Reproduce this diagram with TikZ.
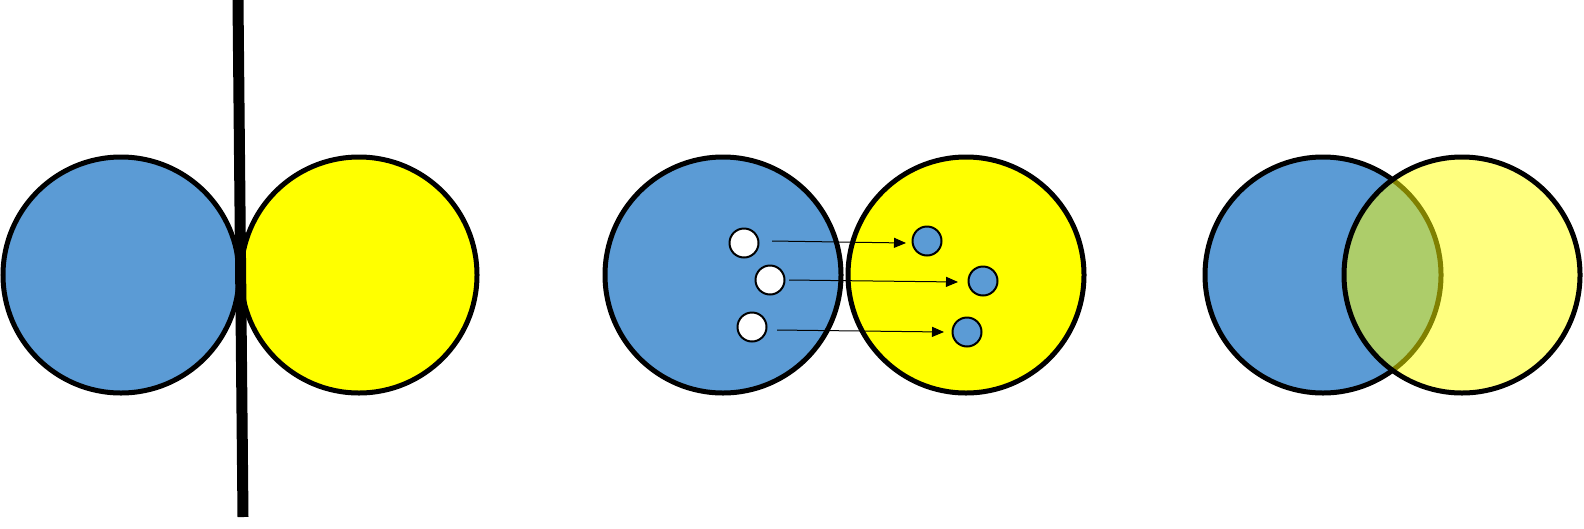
\documentclass[tikz,border=0pt]{standalone}
\usetikzlibrary{arrows.meta}
\definecolor{cblue}{HTML}{5B9BD5}
\definecolor{cyellow}{HTML}{FFFF00}
\begin{document}
\begin{tikzpicture}[x=1pt,y=-1pt,
  big/.style={circle,draw=black,line width=5pt,inner sep=0pt,minimum size=236pt},
  small/.style={circle,draw=black,line width=2pt,inner sep=0pt,minimum size=29pt},
  flow/.style={line width=1pt,-{Triangle[length=12pt,width=10pt]}}]
\useasboundingbox (0,0) rectangle (1584,528);
% panel 1
\node[big,fill=cblue] (b1) at (121,275) {};
\node[big,fill=cyellow] (y1) at (359,275) {};
\coordinate (ltop) at (238,0);
\coordinate (lbot) at (243,517);
\draw[line width=11pt] (ltop) -- (lbot);
% panel 2
\node[big,fill=cblue] (b2) at (723,275) {};
\node[big,fill=cyellow] (y2) at (966,275) {};
\node[small,fill=white] (w1) at (744,243) {};
\node[small,fill=white] (w2) at (770,280) {};
\node[small,fill=white] (w3) at (752,327) {};
\node[small,fill=cblue] (s1) at (927,241) {};
\node[small,fill=cblue] (s2) at (983,281) {};
\node[small,fill=cblue] (s3) at (967,332) {};
\coordinate (a1s) at (772,241); \coordinate (a1e) at (906,243);
\coordinate (a2s) at (789,280); \coordinate (a2e) at (958,282);
\coordinate (a3s) at (777,330); \coordinate (a3e) at (944,332);
\draw[flow] (a1s) -- (a1e);
\draw[flow] (a2s) -- (a2e);
\draw[flow] (a3s) -- (a3e);
% panel 3
\node[big,fill=cblue] (b3) at (1323,275) {};
\node[big,fill=cyellow,fill opacity=0.5,draw opacity=1] (y3) at (1462,275) {};
\end{tikzpicture}
\end{document}
